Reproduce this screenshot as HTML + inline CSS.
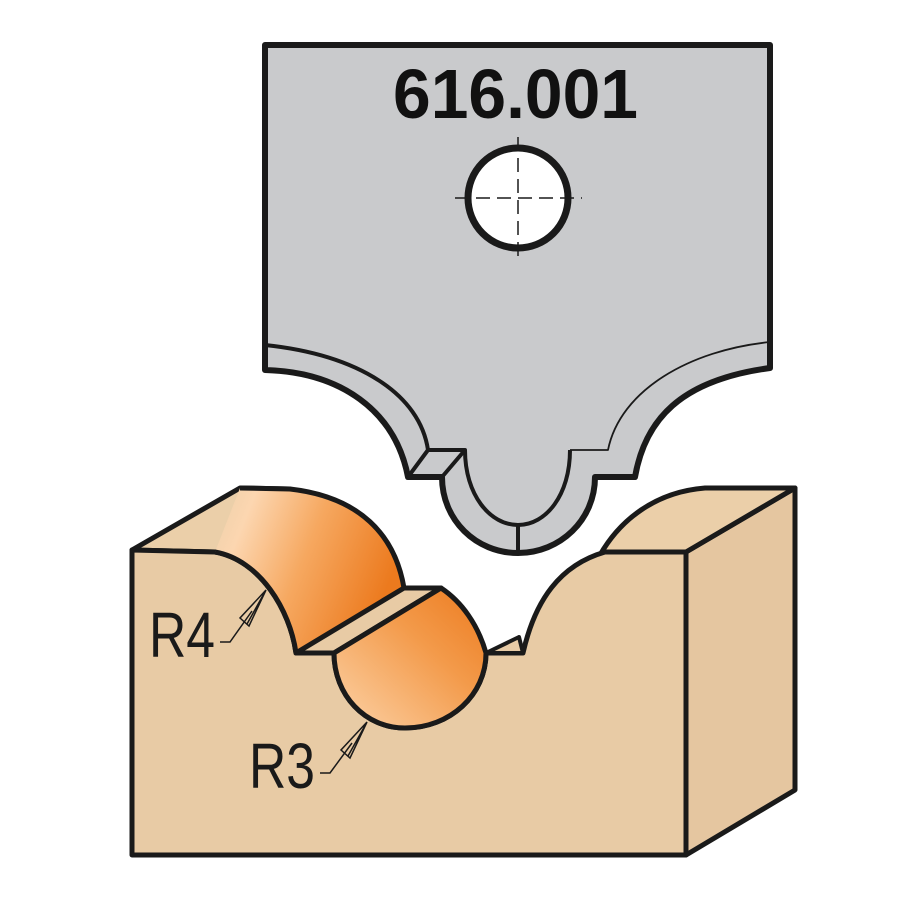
<!DOCTYPE html>
<html><head><meta charset="utf-8"><style>html,body{margin:0;padding:0;background:#fff}svg{display:block}</style></head>
<body>
<svg width="900" height="900" viewBox="0 0 900 900" xmlns="http://www.w3.org/2000/svg">
<defs>
<linearGradient id="og1" x1="0" y1="0" x2="1" y2="0.35">
<stop offset="0" stop-color="#ebcfa9"/><stop offset="0.2" stop-color="#fcd6b0"/><stop offset="0.55" stop-color="#f6a860"/><stop offset="1" stop-color="#ec7a1e"/>
</linearGradient>
<linearGradient id="og2" x1="0" y1="1" x2="1" y2="0">
<stop offset="0" stop-color="#fcd3a8"/><stop offset="0.6" stop-color="#f39a4a"/><stop offset="1" stop-color="#ec7a1e"/>
</linearGradient>
</defs>
<g stroke="#1a1a1a" stroke-linejoin="round">
<path d="M265,45 L770,45 L770,368 C680,380 645,420 635,477 L595,477 C595,520 560,553 518,553 C476,553 442,520 442,477 L408,477 C395,410 340,372 265,370 Z" fill="#c9cacc" stroke-width="6"/>
<path d="M265,345 C360,355 420,395 428,450 L465,450 C465,495 490,525 518,525 C546,525 570,495 570,450" fill="none" stroke-width="4"/>
<path d="M570,450 L608,450 C620,390 690,350 770,342" fill="none" stroke-width="1.8"/>
<path d="M408,477 L428,450 M442,477 L465,450" fill="none" stroke-width="4"/>
<line x1="518" y1="525" x2="518" y2="553" stroke-width="4"/>
<circle cx="518" cy="198" r="50" fill="#fff" stroke-width="7"/>
</g>
<g stroke="#1a1a1a" stroke-width="1.5" stroke-dasharray="14,7">
<line x1="455" y1="198" x2="582" y2="198"/><line x1="518" y1="137" x2="518" y2="262"/>
</g>
<text x="393" y="118" font-family="Liberation Sans, sans-serif" font-weight="bold" font-size="70" textLength="245" lengthAdjust="spacingAndGlyphs" fill="#111">616.001</text>
<g stroke="#1a1a1a" stroke-width="5" stroke-linejoin="round">
<path d="M686,552 L795,488 L795,790 L686,855 Z" fill="#e5c6a0"/>
<path d="M600,555 L686,552 L795,488 L705,488 C655,492 620,520 600,555 Z" fill="#ebcfa9"/>
<path d="M132,550 L240,488 L290,489 L296,653 L215,552 Z" fill="#ebcfa9"/>
<path d="M132,550 L215,552 C260,560 290,610 296,653 L334,653 C334,695 365,728 405,728 C450,728 486,695 486,653 L523,653 C535,600 560,565 605,552 L686,552 L686,855 L132,855 Z" fill="#e8cba5"/>
<!-- R4 orange (no stroke on left) -->
<path d="M215,552 C260,560 290,610 296,653 L404,588 C395,535 360,497 290,489 L240,488 Z" fill="url(#og1)" stroke="none"/>
<path d="M240,488 L290,489 C360,497 395,535 404,588" fill="none"/>
<path d="M215,552 C260,560 290,610 296,653" fill="none"/>
<!-- chamfer -->
<path d="M296,653 L334,653 L441,588 L404,588 Z" fill="#e8cba5"/>
<!-- R3 orange -->
<path d="M334,653 C334,695 365,728 405,728 C450,728 486,695 486,653 C478,625 462,602 441,588 Z" fill="url(#og2)"/>
<path d="M486,653 L523,653 L519,637 Z" fill="#e8cba5" stroke-width="4"/>
</g>
<g font-family="Liberation Sans, sans-serif" font-size="64" fill="#1a1a1a">
<text x="149" y="657" textLength="66" lengthAdjust="spacingAndGlyphs">R4</text>
<text x="249" y="788" textLength="66" lengthAdjust="spacingAndGlyphs">R3</text>
</g>
<g stroke="#1a1a1a" stroke-width="1.5" fill="none">
<path d="M220,642 L230,642 L252,611"/>
<path d="M266,590 L240,618 L249,626 Z M266,590 L247,624"/>
<path d="M320,773 L330,773 L352,743"/>
<path d="M367,722 L341,750 L350,758 Z M367,722 L348,756"/>
</g>
</svg>
</body></html>
